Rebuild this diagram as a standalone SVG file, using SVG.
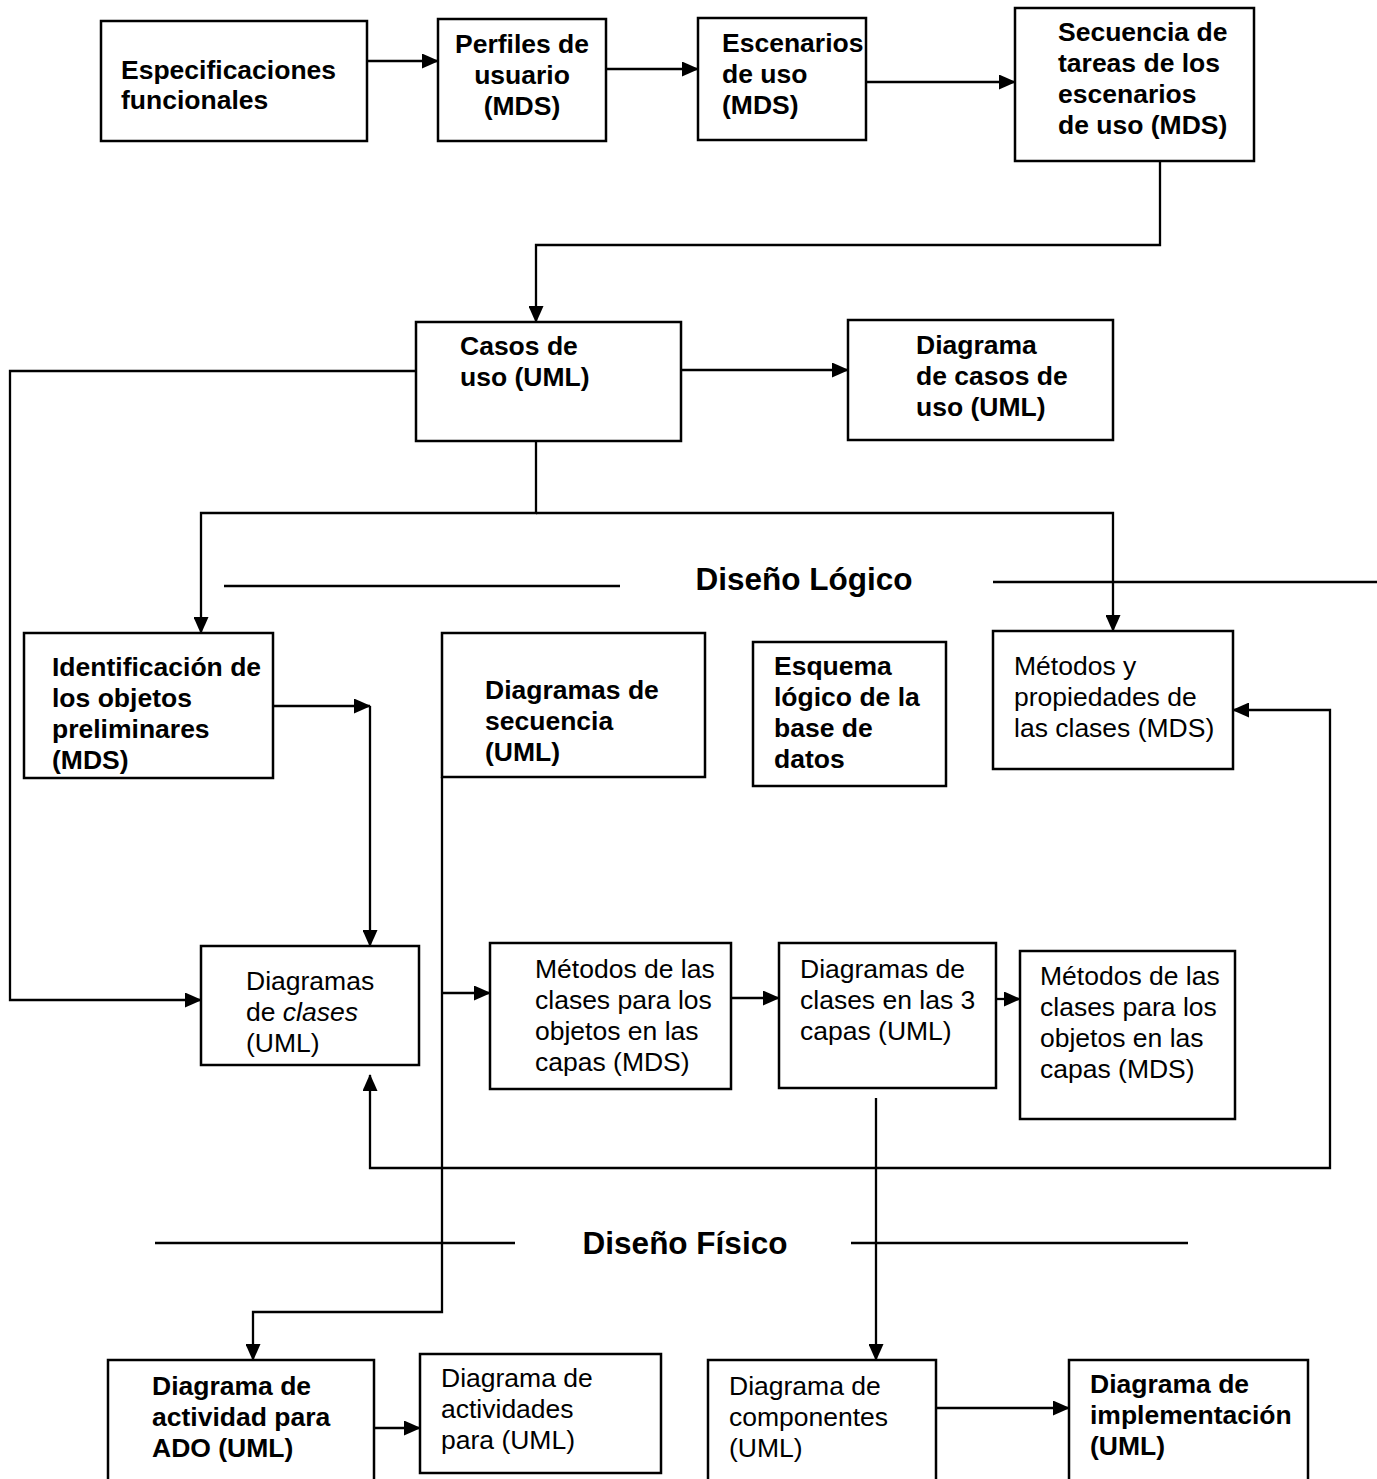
<svg xmlns="http://www.w3.org/2000/svg" width="1377" height="1479" viewBox="0 0 1377 1479">
<style>
.box{fill:#fff;stroke:#000;stroke-width:2.5}
.b{font-family:"Liberation Sans",Arial,sans-serif;font-weight:bold;font-size:26.5px;fill:#000}
.r{font-family:"Liberation Sans",Arial,sans-serif;font-size:26.5px;fill:#000}
.h{font-family:"Liberation Sans",Arial,sans-serif;font-weight:bold;font-size:31.5px;fill:#000}
.ln{fill:none;stroke:#000;stroke-width:2.3}
.ar{marker-end:url(#ah)}
</style>
<defs>
<marker id="ah" markerUnits="userSpaceOnUse" markerWidth="17" markerHeight="15" refX="16" refY="7.5" orient="auto-start-reverse">
<path d="M0,0 L17,7.5 L0,15 z" fill="#000"/>
</marker>
</defs>
<rect width="1377" height="1479" fill="#fff"/>

<g id="connectors">
<path class="ln ar" d="M367,61 H438"/>
<path class="ln ar" d="M606,69 H698"/>
<path class="ln ar" d="M864,82 H1015"/>
<path class="ln ar" d="M1160,161 V245 H536 V322"/>
<path class="ln ar" d="M681,370 H848"/>
<path class="ln ar" d="M416,371 H10 V1000 H201"/>
<path class="ln ar" d="M536,441 V513 H201 V633"/>
<path class="ln ar" d="M536,513 H1113 V631"/>
<path class="ln ar" d="M273,706 H370"/>
<path class="ln ar" d="M370,706 V946"/>
<path class="ln ar" d="M442,777 V1312 H253 V1360"/>
<path class="ln ar" d="M442,993 H490"/>
<path class="ln ar" d="M731,998 H779"/>
<path class="ln ar" d="M996,999 H1020"/>
<path class="ln" d="M1233,710 H1330 V1168 H370 V1075" marker-start="url(#ah)" marker-end="url(#ah)"/>
<path class="ln ar" d="M876,1098 V1360"/>
<path class="ln ar" d="M374,1428 H420"/>
<path class="ln ar" d="M936,1408 H1069"/>
</g>

<g id="dividers">
<path class="ln" d="M224,586 H620"/>
<path class="ln" d="M993,582 H1377"/>
<path class="ln" d="M155,1243 H515"/>
<path class="ln" d="M851,1243 H1188"/>
<text class="h" x="804" y="590" text-anchor="middle">Diseño Lógico</text>
<text class="h" x="685" y="1254" text-anchor="middle">Diseño Físico</text>
</g>

<g id="n1"><rect class="box" x="101" y="21" width="266" height="120"/>
<text class="b" x="121" y="79">Especificaciones</text><text class="b" x="121" y="109">funcionales</text></g>

<g id="n2"><rect class="box" x="438" y="19" width="168" height="122"/>
<text class="b" text-anchor="middle" x="522" y="53">Perfiles de</text><text class="b" text-anchor="middle" x="522" y="84">usuario</text><text class="b" text-anchor="middle" x="522" y="115">(MDS)</text></g>

<g id="n3"><rect class="box" x="698" y="18" width="168" height="122"/>
<text class="b" x="722" y="52">Escenarios</text><text class="b" x="722" y="83">de uso</text><text class="b" x="722" y="114">(MDS)</text></g>

<g id="n4"><rect class="box" x="1015" y="8" width="239" height="153"/>
<text class="b" x="1058" y="41">Secuencia de</text><text class="b" x="1058" y="72">tareas de los</text><text class="b" x="1058" y="103">escenarios</text><text class="b" x="1058" y="134">de uso (MDS)</text></g>

<g id="n5"><rect class="box" x="416" y="322" width="265" height="119"/>
<text class="b" x="460" y="355">Casos de</text><text class="b" x="460" y="386">uso (UML)</text></g>

<g id="n6"><rect class="box" x="848" y="320" width="265" height="120"/>
<text class="b" x="916" y="354">Diagrama</text><text class="b" x="916" y="385">de casos de</text><text class="b" x="916" y="416">uso (UML)</text></g>

<g id="n7"><rect class="box" x="24" y="633" width="249" height="145"/>
<text class="b" x="52" y="676">Identificación de</text><text class="b" x="52" y="707">los objetos</text><text class="b" x="52" y="738">preliminares</text><text class="b" x="52" y="769">(MDS)</text></g>

<g id="n8"><rect class="box" x="442" y="633" width="263" height="144"/>
<text class="b" x="485" y="699">Diagramas de</text><text class="b" x="485" y="730">secuencia</text><text class="b" x="485" y="761">(UML)</text></g>

<g id="n9"><rect class="box" x="753" y="642" width="193" height="144"/>
<text class="b" x="774" y="675">Esquema</text><text class="b" x="774" y="706">lógico de la</text><text class="b" x="774" y="737">base de</text><text class="b" x="774" y="768">datos</text></g>

<g id="n10"><rect class="box" x="993" y="631" width="240" height="138"/>
<text class="r" x="1014" y="675">Métodos y</text><text class="r" x="1014" y="706">propiedades de</text><text class="r" x="1014" y="737">las clases (MDS)</text></g>

<g id="n11"><rect class="box" x="201" y="946" width="218" height="119"/>
<text class="r" x="246" y="990">Diagramas</text><text class="r" x="246" y="1021">de <tspan font-style="italic">clases</tspan></text><text class="r" x="246" y="1052">(UML)</text></g>

<g id="n12"><rect class="box" x="490" y="943" width="241" height="146"/>
<text class="r" x="535" y="978">Métodos de las</text><text class="r" x="535" y="1009">clases para los</text><text class="r" x="535" y="1040">objetos en las</text><text class="r" x="535" y="1071">capas (MDS)</text></g>

<g id="n13"><rect class="box" x="779" y="943" width="217" height="145"/>
<text class="r" x="800" y="978">Diagramas de</text><text class="r" x="800" y="1009">clases en las 3</text><text class="r" x="800" y="1040">capas (UML)</text></g>

<g id="n14"><rect class="box" x="1020" y="951" width="215" height="168"/>
<text class="r" x="1040" y="985">Métodos de las</text><text class="r" x="1040" y="1016">clases para los</text><text class="r" x="1040" y="1047">objetos en las</text><text class="r" x="1040" y="1078">capas (MDS)</text></g>

<g id="n15"><rect class="box" x="108" y="1360" width="266" height="140"/>
<text class="b" x="152" y="1395">Diagrama de</text><text class="b" x="152" y="1426">actividad para</text><text class="b" x="152" y="1457">ADO (UML)</text></g>

<g id="n16"><rect class="box" x="420" y="1354" width="241" height="119"/>
<text class="r" x="441" y="1387">Diagrama de</text><text class="r" x="441" y="1418">actividades</text><text class="r" x="441" y="1449">para (UML)</text></g>

<g id="n17"><rect class="box" x="708" y="1360" width="228" height="140"/>
<text class="r" x="729" y="1395">Diagrama de</text><text class="r" x="729" y="1426">componentes</text><text class="r" x="729" y="1457">(UML)</text></g>

<g id="n18"><rect class="box" x="1069" y="1360" width="239" height="140"/>
<text class="b" x="1090" y="1393">Diagrama de</text><text class="b" x="1090" y="1424">implementación</text><text class="b" x="1090" y="1455">(UML)</text></g>
</svg>
